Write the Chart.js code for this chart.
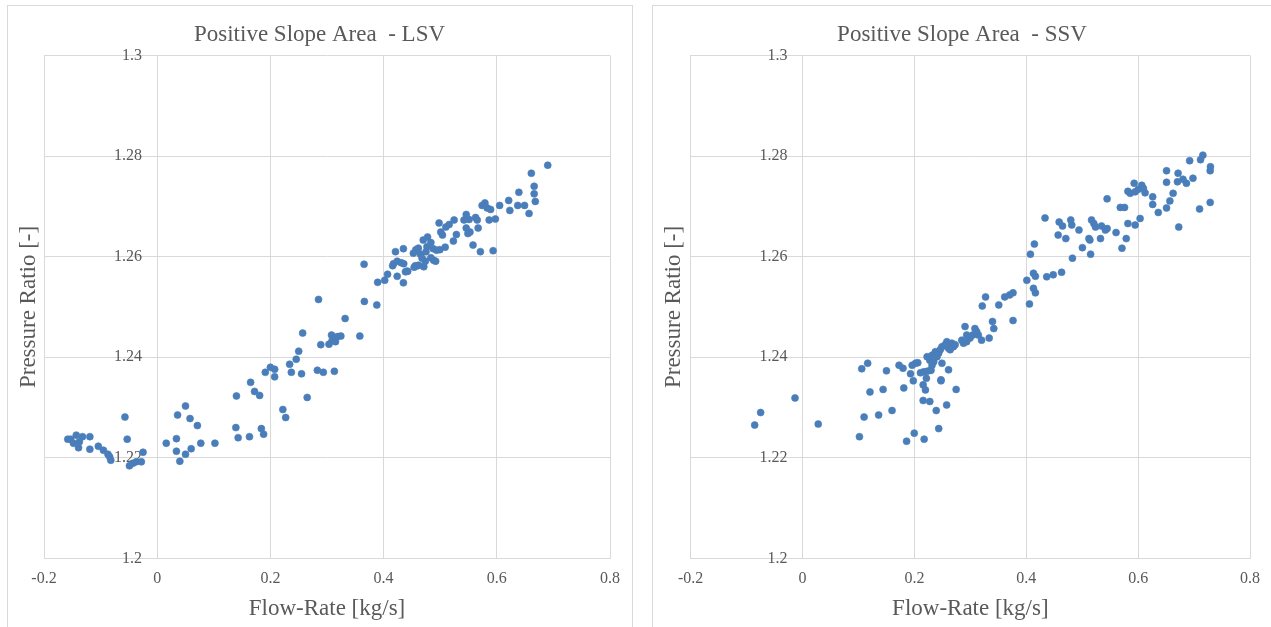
<!DOCTYPE html>
<html><head><meta charset="utf-8">
<script src="https://cdn.jsdelivr.net/npm/chart.js@4.4.1/dist/chart.umd.min.js"></script>
<style>
html,body{margin:0;padding:0;background:#fff;width:1271px;height:627px;overflow:hidden;position:relative;}
.panel{position:absolute;border:1px solid #d9d9d9;box-sizing:border-box;}
#p1{left:7px;top:5px;width:626px;height:660px;}
#p2{left:652px;top:5px;width:660px;height:660px;}
canvas{position:absolute;}
</style></head><body>
<div class="panel" id="p1"></div><div class="panel" id="p2"></div>
<canvas id="c1" width="623" height="621" style="left:8px;top:6px;width:623px;height:621px"></canvas>
<canvas id="c2" width="618" height="621" style="left:653px;top:6px;width:618px;height:621px"></canvas>
<script>
const titles = ['Positive Slope Area  - LSV', 'Positive Slope Area  - SSV'];
const xAxisTitle = 'Flow-Rate [kg/s]';
const yAxisTitle = 'Pressure Ratio [-]';
const xTickValues = [-0.2, 0, 0.2, 0.4, 0.6, 0.8];
const xTickLabels = ['-0.2', '0', '0.2', '0.4', '0.6', '0.8'];
const yTickValues = [1.2, 1.22, 1.24, 1.26, 1.28, 1.3];
const yTickLabels = ['1.2', '1.22', '1.24', '1.26', '1.28', '1.3'];
// value-axis labels sit just left of the x = 0 line (Excel style)
const yLabelCross = -0.027;

const lsvFlow = [-0.158,-0.153,-0.143,-0.132,-0.119,-0.148,-0.139,-0.1375,-0.119,-0.104,-0.095,-0.087,-0.084,-0.082,-0.057,-0.053,-0.049,-0.043,-0.037,-0.028,-0.025,
0.016,0.034,0.034,0.036,0.040,0.050,0.050,0.058,0.060,0.071,0.077,0.102,0.140,0.139,0.143,0.163,0.165,0.172,0.181,0.184,0.188,0.222,0.227,0.265,
0.191,0.200,0.2075,0.2075,0.234,0.237,0.2456,0.250,0.255,0.257,0.283,0.285,0.289,0.2935,0.3035,0.308,0.309,0.315,0.313,0.3186,0.3245,0.332,0.358,0.366,0.388,0.3895,0.402,0.407,0.424,
0.3655,0.421,0.435,0.4175,0.424,0.4356,0.435,0.4386,0.4426,0.4526,0.457,0.4614,0.456,0.462,0.465,0.468,0.471,0.4737,0.470,0.4777,0.4835,0.4877,0.4883,0.4935,0.4993,0.5088,
0.498,0.501,0.504,0.510,0.5158,0.5246,0.5233,0.5286,0.542,0.546,0.551,0.5526,0.546,0.549,0.558,0.5625,0.5654,0.567,0.571,0.574,0.579,0.583,0.589,0.5865,0.5975,0.5935,
0.605,0.621,0.623,0.637,0.649,0.639,0.657,0.661,0.666,0.666,0.668,0.690,
0.416,0.431,0.441,0.460,0.475,0.4766,0.492,0.4835,0.454];
const lsvRatio = [1.2237,1.2237,1.2245,1.2242,1.2242,1.2229,1.2220,1.2232,1.2217,1.2223,1.2215,1.2207,1.2202,1.2195,1.2281,1.2237,1.2184,1.2189,1.2192,1.2192,1.2211,
1.2229,1.2238,1.2213,1.2285,1.2193,1.2207,1.2303,1.2278,1.2218,1.2264,1.2229,1.2229,1.2323,1.2260,1.2240,1.2242,1.2350,1.2332,1.2324,1.2258,1.2247,1.2296,1.2280,1.2320,
1.2370,1.2380,1.2376,1.2361,1.2386,1.2370,1.2396,1.2412,1.2367,1.2448,1.2374,1.2515,1.2425,1.2370,1.2426,1.2444,1.2433,1.2431,1.2372,1.2441,1.2442,1.2477,1.2442,1.2511,1.2504,1.2549,1.2553,1.2565,1.2561,
1.2585,1.2610,1.2616,1.2586,1.2591,1.2586,1.2548,1.2570,1.2571,1.2607,1.2614,1.2617,1.2582,1.2583,1.2605,1.2597,1.2580,1.2591,1.2633,1.2639,1.2628,1.2616,1.2593,1.2613,1.2614,1.2619,
1.2667,1.2649,1.2643,1.2659,1.2664,1.2673,1.2631,1.2644,1.2673,1.2684,1.2674,1.2649,1.2657,1.2646,1.2623,1.2678,1.2673,1.2657,1.2610,1.2702,1.2707,1.2697,1.2694,1.2673,1.2675,1.2612,
1.2702,1.2712,1.2692,1.2702,1.2702,1.2728,1.2686,1.2766,1.2740,1.2725,1.2710,1.2782,
1.2582,1.2588,1.2571,1.2582,1.2610,1.2620,1.2591,1.2598,1.2579];

const ssvFlow = [-0.0856,-0.075,-0.0135,0.028,0.1017,0.110,0.1205,0.136,0.144,0.160,0.181,0.186,0.1997,0.198,0.2156,0.2197,0.2156,0.2275,0.2174,0.239,0.2434,0.2475,0.2576,0.2746,
0.1164,0.150,0.1725,0.1796,0.193,0.196,0.202,0.206,0.2108,0.2168,0.2227,0.2285,0.2214,0.2227,0.2275,0.2315,0.2345,0.2374,0.2404,0.2433,0.2462,0.2492,0.2551,0.2580,0.261,0.2639,0.2669,0.2698,0.2728,
0.2315,0.2297,0.2492,0.261,0.2475,0.2877,0.2847,0.2935,0.2994,0.2935,0.2905,0.3042,0.3082,0.3143,0.3201,0.3112,0.3337,0.3396,0.3419,0.3763,
0.1058,0.3213,0.3272,0.3508,0.3614,0.3702,0.3763,0.401,0.4057,0.4074,0.4145,0.4128,0.4163,0.4128,0.4163,0.4335,0.4365,0.4482,0.4631,0.457,0.4588,0.4648,0.4707,0.4795,0.4813,0.4942,0.4825,
0.5003,0.512,0.5137,0.515,0.5167,0.5208,0.5238,0.5327,0.5345,0.5415,0.5445,0.5445,0.5605,0.5711,0.5681,0.5757,0.5787,0.5817,0.5817,0.5858,0.5929,0.5947,0.6005,0.6065,0.6094,0.6124,0.5947,0.6035,
0.626,0.626,0.636,0.6508,0.6508,0.6508,0.6567,0.6625,0.6714,0.6726,0.6703,0.6802,0.6863,0.698,0.6921,0.7098,0.7116,0.7157,0.7288,0.7293,0.7288];
const ssvRatio = [1.2265,1.2290,1.2319,1.2267,1.2242,1.2281,1.2331,1.2285,1.2336,1.2294,1.2339,1.2233,1.2249,1.2353,1.2345,1.2335,1.2314,1.2312,1.2237,1.2294,1.2258,1.2353,1.2305,1.2336,
1.2388,1.2373,1.2384,1.2378,1.2367,1.2384,1.2388,1.2389,1.2369,1.2371,1.2372,1.2374,1.2358,1.2401,1.2394,1.2404,1.2391,1.2411,1.2401,1.2408,1.2415,1.2421,1.2425,1.2431,1.2418,1.2415,1.2428,1.2421,1.2425,
1.2384,1.2374,1.2388,1.2375,1.2355,1.2428,1.2434,1.2431,1.2438,1.2444,1.2461,1.2444,1.2457,1.2444,1.2434,1.2451,1.2438,1.2471,1.2457,1.2473,
1.2377,1.2502,1.2520,1.2504,1.2520,1.2524,1.2528,1.2553,1.2506,1.2605,1.2625,1.2567,1.2561,1.2537,1.2528,1.2677,1.2560,1.2564,1.2569,1.2643,1.2669,1.2661,1.2636,1.2673,1.2663,1.2653,1.2597,
1.2618,1.2636,1.2633,1.2605,1.2673,1.2666,1.2659,1.2636,1.2661,1.2653,1.2656,1.2715,1.2648,1.2617,1.2698,1.2698,1.2636,1.2666,1.2730,1.2726,1.2746,1.2729,1.2734,1.2742,1.2736,1.2727,1.2663,1.2676,
1.2719,1.2704,1.2688,1.2771,1.2748,1.2697,1.2711,1.2726,1.2766,1.2659,1.2749,1.2754,1.2746,1.2756,1.2791,1.2695,1.2793,1.2802,1.2771,1.2779,1.2708];

const FONT = "'Liberation Serif', 'Times New Roman', serif";
const TEXT = '#595959';
const GRID = '#d9d9d9';
const DOT = '#4a7ebb';

function makeChart(id, title, xs, ys, leftW, rightW) {
  const data = xs.map((x, i) => ({x: x, y: ys[i]}));
  const setX = s => { s.ticks = xTickValues.map(v => ({value: v})); };
  const setY = s => { s.ticks = yTickValues.map(v => ({value: v})); };
  return new Chart(document.getElementById(id), {
    type: 'scatter',
    data: {datasets: [{data: data, xAxisID: 'x', yAxisID: 'y', backgroundColor: DOT, borderColor: DOT,
      pointRadius: 3.5, pointBorderWidth: 0.6, pointHoverRadius: 3.5}]},
    options: {
      responsive: false, animation: false, devicePixelRatio: 1,
      layout: {padding: 0},
      plugins: {
        legend: {display: false}, tooltip: {enabled: false},
        title: {display: true, text: title, color: TEXT,
          font: {family: FONT, size: 23, weight: 'normal'}, padding: {top: 15, bottom: 7}}
      },
      scales: {
        x: {type: 'linear', position: 'bottom', min: -0.2, max: 0.8, afterBuildTicks: setX,
          afterFit: s => { s.height = 68.7; },
          grid: {color: GRID, drawTicks: false}, border: {color: GRID},
          ticks: {color: TEXT, font: {family: FONT, size: 16}, padding: 11,
            callback: (v, i) => xTickLabels[i]},
          title: {display: true, text: xAxisTitle, color: TEXT,
            font: {family: FONT, size: 23, weight: 'normal'}, padding: {top: 0, bottom: 4}}},
        y: {type: 'linear', position: 'left', min: 1.2, max: 1.3, afterBuildTicks: setY,
          afterFit: s => { s.width = leftW; },
          grid: {color: GRID, drawTicks: false}, border: {color: GRID},
          ticks: {display: false},
          title: {display: true, text: yAxisTitle, color: TEXT,
            font: {family: FONT, size: 23, weight: 'normal'}, padding: {top: 7, bottom: 0}}},
        yLabels: {type: 'linear', axis: 'y', position: {x: yLabelCross}, min: 1.2, max: 1.3, afterBuildTicks: setY,
          grid: {display: false, drawTicks: false}, border: {display: false},
          ticks: {color: TEXT, font: {family: FONT, size: 16}, padding: 0,
            callback: (v, i) => yTickLabels[i]}},
        yRight: {type: 'linear', axis: 'y', position: 'right', min: 1.2, max: 1.3,
          afterFit: s => { s.width = rightW; },
          grid: {display: false}, border: {display: false}, ticks: {display: false}}
      }
    }
  });
}
makeChart('c1', titles[0], lsvFlow, lsvRatio, 36, 20);
makeChart('c2', titles[1], ssvFlow, ssvRatio, 37.7, 15);
</script>
</body></html>
